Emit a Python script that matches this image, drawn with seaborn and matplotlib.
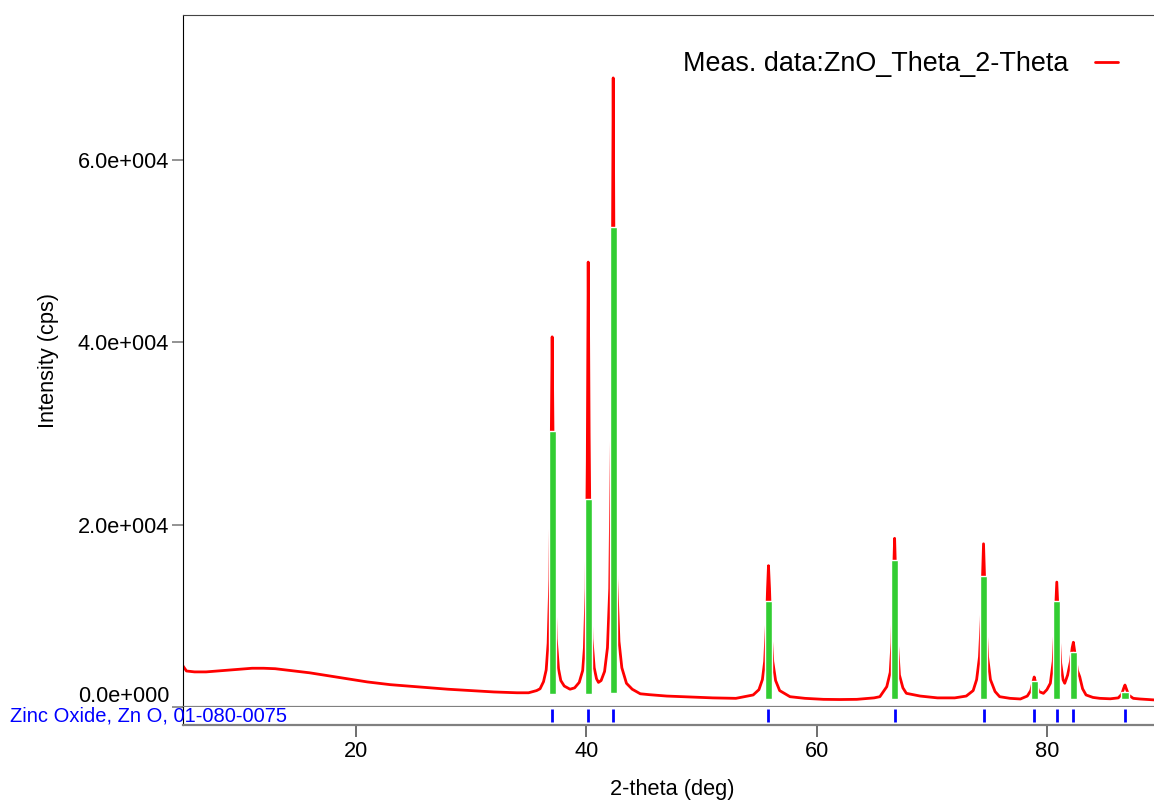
import numpy as np
import pandas as pd
import matplotlib
matplotlib.use("Agg")
import matplotlib.pyplot as plt
from matplotlib.ticker import FuncFormatter, FixedLocator
import seaborn as sns

meas_points = [
    (5.0, 4500), (5.3, 3950), (6.0, 3850), (7.0, 3850), (8.0, 3950),
    (9.0, 4050), (10.0, 4150), (11.0, 4250), (12.0, 4250), (13.0, 4200),
    (14.0, 4050), (15.0, 3900), (16.0, 3750), (17.0, 3550), (18.0, 3350),
    (19.0, 3150), (20.0, 2950), (21.0, 2750), (22.0, 2600), (23.0, 2450),
    (24.0, 2350), (25.0, 2250), (26.0, 2150), (27.0, 2050), (28.0, 1950),
    (29.0, 1880), (30.0, 1800), (31.0, 1720), (32.0, 1650), (33.0, 1600),
    (34.0, 1560), (35.0, 1560), (35.7, 1800), (36.0, 2000), (36.3, 2780),
    (36.53, 4060), (36.7, 7000), (36.85, 14000), (36.95, 26000),
    (37.05, 40600), (37.15, 26000), (37.25, 14500), (37.4, 7500),
    (37.6, 4200), (37.8, 2900), (38.1, 2300), (38.6, 1950), (39.0, 2100),
    (39.4, 2700), (39.7, 4000), (39.85, 6500), (40.0, 13000), (40.1, 27000),
    (40.18, 48800), (40.26, 30000), (40.36, 15000), (40.5, 7500),
    (40.7, 4300), (40.9, 3100), (41.07, 2700), (41.3, 2900), (41.6, 3900),
    (41.85, 6500), (42.05, 13000), (42.2, 30000), (42.28, 48000),
    (42.35, 69000), (42.42, 48000), (42.5, 30000), (42.65, 14000),
    (42.85, 7200), (43.1, 4300), (43.5, 2600), (44.0, 1950), (44.7, 1450),
    (45.5, 1350), (47.0, 1200), (49.0, 1100), (51.0, 1000), (53.0, 950),
    (54.5, 1320), (55.0, 1900), (55.3, 3000), (55.5, 5000), (55.65, 9000),
    (55.75, 13000), (55.83, 15500), (55.92, 13000), (56.02, 9000),
    (56.2, 5000), (56.45, 2900), (56.8, 1800), (57.7, 1130), (59.0, 950),
    (60.6, 840), (62.0, 820), (63.5, 840), (65.0, 1000), (65.5, 1130),
    (66.1, 2230), (66.4, 3800), (66.55, 7000), (66.68, 14000),
    (66.78, 18500), (66.88, 14000), (67.0, 7500), (67.2, 3500),
    (67.5, 2100), (67.8, 1500), (69.0, 1200), (70.5, 1000), (72.0, 1000),
    (73.0, 1200), (73.6, 1800), (73.9, 3000), (74.15, 5500), (74.3, 9500),
    (74.42, 14500), (74.5, 17900), (74.58, 14500), (74.7, 9500),
    (74.85, 5500), (75.1, 3000), (75.5, 1700), (75.9, 1130), (76.8, 950),
    (77.7, 880), (78.3, 1200), (78.6, 1800), (78.78, 2700), (78.9, 3290),
    (79.02, 2700), (79.3, 1700), (79.7, 1500), (80.0, 1900), (80.3, 2600),
    (80.55, 5000), (80.72, 9500), (80.86, 13700), (81.0, 9500),
    (81.2, 4800), (81.4, 3000), (81.55, 2600), (81.8, 3500), (82.05, 5000),
    (82.2, 6500), (82.3, 7100), (82.45, 5800), (82.65, 4000),
    (82.85, 3320), (83.1, 2000), (83.4, 1320), (84.0, 1050), (84.6, 950),
    (85.5, 900), (86.2, 1000), (86.5, 1400), (86.68, 2100), (86.78, 2410),
    (86.9, 2000), (87.1, 1300), (87.5, 950), (88.06, 880), (89.4, 770),
]

# reference card 01-080-0075 sticks
ref_pos = [37.05, 40.18, 42.35, 55.8, 66.78, 74.5, 78.9, 80.86, 82.3, 86.78]
ref_top = [30280, 22820, 52660, 11630, 16130, 14370, 2890, 11630, 6070, 1680]
ref_base = [1430, 1430, 1500, 880, 880, 880, 880, 880, 880, 880]

x_ticks = [20, 40, 60, 80]
y_ticks = [0, 20000, 40000, 60000]

meas_label = "Meas. data:ZnO_Theta_2-Theta"
ref_label = "Zinc Oxide, Zn O, 01-080-0075"


def sci_fmt(v, pos):
    if v == 0:
        return "0.0e+000"
    exp = int(np.floor(np.log10(abs(v))))
    return f"{v / 10**exp:.1f}e{exp:+04d}"


sns.set_style("white")
plt.rcParams["font.family"] = ["Liberation Sans", "DejaVu Sans"]
plt.rcParams["text.color"] = "black"
plt.rcParams["axes.labelcolor"] = "black"

W, H = 1154, 802
fig = plt.figure(figsize=(W / 100, H / 100), dpi=100)
ax = fig.add_axes([183 / W, 1 - 707 / H, 1 - 183 / W, (707 - 15) / H])
ax_ref = fig.add_axes([183 / W, 1 - 724.5 / H, 1 - 183 / W, 17.5 / H],
                      sharex=ax)

df = pd.DataFrame(meas_points, columns=["two_theta", "intensity"])
sns.lineplot(data=df, x="two_theta", y="intensity", color="red",
             linewidth=2.0, label=meas_label, ax=ax, zorder=2)

heights = [t - b for t, b in zip(ref_top, ref_base)]
ax.bar(ref_pos, heights, bottom=ref_base, width=0.62, color="#32cd32",
       zorder=3)

ax.set_xlim(5, 89.3)
ax.set_ylim(0, 75900)
ax.yaxis.set_major_locator(FixedLocator(y_ticks))
ax.yaxis.set_major_formatter(FuncFormatter(sci_fmt))
ax.tick_params(axis="x", bottom=False, labelbottom=False)
ax.tick_params(axis="y", left=True, length=8, width=1.2, color="#808080",
               labelsize=15.7, pad=2, labelcolor="black")
ax.yaxis.get_major_ticks()[0].label1.set_verticalalignment("bottom")
ax.set_xlabel("")
ax.set_ylabel("Intensity (cps)", fontsize=15.7, color="black")
ax.yaxis.set_label_coords(-0.128, 0.5)

ax.spines["right"].set_visible(False)
ax.spines["top"].set_color("#444444")
ax.spines["left"].set_color("black")
ax.spines["bottom"].set_color("#808080")
ax.spines["bottom"].set_linewidth(1.6)

leg = ax.legend(loc="upper right", bbox_to_anchor=(1118 / W, 1 - 51 / H),
                bbox_transform=fig.transFigure, frameon=False,
                markerfirst=False, fontsize=19.4, handlelength=0.85,
                handletextpad=1.0, borderpad=0, borderaxespad=0)
for t in leg.get_texts():
    t.set_color("black")

# reference strip
ax_ref.vlines(ref_pos, 0.15, 0.87, color="blue", linewidth=2)
ax_ref.set_ylim(0, 1)
ax_ref.set_yticks([])
ax_ref.xaxis.set_major_locator(FixedLocator(x_ticks))
ax_ref.tick_params(axis="x", bottom=True, direction="out", length=8.6,
                   width=1.2, color="#555555", labelsize=15.7, pad=3,
                   labelcolor="black")
ax_ref.spines["top"].set_visible(False)
ax_ref.spines["right"].set_visible(False)
ax_ref.spines["left"].set_color("black")
ax_ref.spines["bottom"].set_color("#808080")
ax_ref.spines["bottom"].set_linewidth(1.6)
ax_ref.set_xlabel("2-theta (deg)", fontsize=15.7, color="black")
ax_ref.xaxis.set_label_coords(0.504, -3.1)

fig.text(10 / W, 1 - 716 / H, ref_label, color="blue", fontsize=14.5,
         va="center", ha="left")

fig.savefig("out.png", dpi=100, facecolor="white")
